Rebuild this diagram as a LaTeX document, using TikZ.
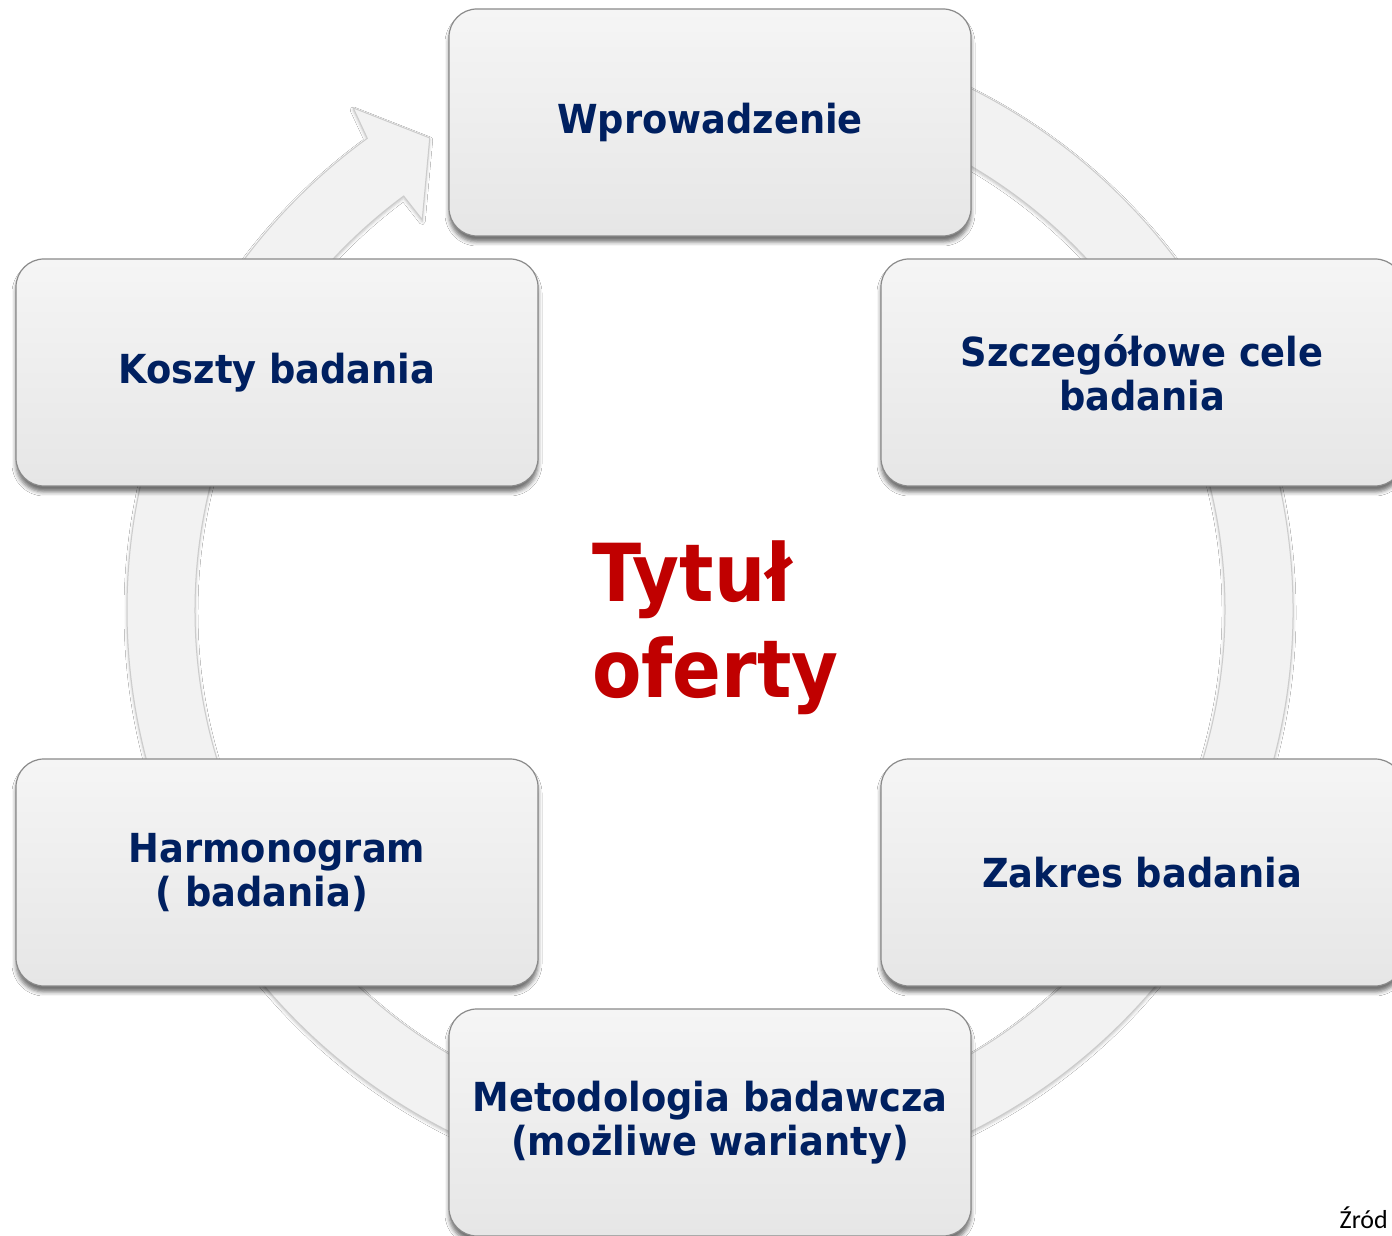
\documentclass[tikz,border=0pt]{standalone}
\usepackage{fontspec}
\setmainfont{DejaVu Sans}
\newfontfamily\boxfont[FakeStretch=0.92]{DejaVu Sans}
\newfontfamily\titlefont[FakeStretch=0.9]{DejaVu Sans}
\newfontfamily\srcfont{Carlito}
\usetikzlibrary{shadows.blur}
\definecolor{navy}{HTML}{002060}
\definecolor{titlered}{HTML}{C00000}
\definecolor{ringfill}{HTML}{F2F2F2}
\definecolor{ringline}{HTML}{CCCCCC}
\definecolor{boxline}{HTML}{8A8A8A}
\definecolor{boxtop}{HTML}{F5F5F5}
\definecolor{boxbot}{HTML}{E6E6E6}
\tikzset{
  stage/.style={rectangle, rounded corners=28pt, minimum width=522pt, minimum height=227pt,
    draw=boxline, line width=1.2pt, top color=boxtop, bottom color=boxbot, text=navy,
    font=\boxfont\bfseries\fontsize{40}{44}\selectfont, align=center,
    blur shadow={shadow xshift=0pt, shadow yshift=-6pt, shadow blur radius=4pt, shadow opacity=55}},
  ringstyle/.style={fill=ringfill, draw=ringline, line width=1pt,
    blur shadow={shadow xshift=0pt, shadow yshift=-2pt, shadow blur radius=3pt, shadow opacity=25}}
}
\begin{document}
\begin{tikzpicture}[x=1pt,y=1pt]
\useasboundingbox (0,0) rectangle (1392,1236);
\clip (0,0) rectangle (1392,1236);
\fill[white] (0,0) rectangle (1392,1236);
% circular arrow
\begin{scope}[shift={(710,626)}]
\path[ringstyle]
  (95:583) arc[start angle=95, end angle=-234, radius=583]
  -- (-234.6:616) -- (-239.3:549) -- (-233.6:485) -- (-233.5:515)
  arc[start angle=-233.5, end angle=95, radius=515] -- cycle;
\end{scope}
% stages
\node[stage] (intro) at (710,1113.5) {Wprowadzenie};
\node[stage] (goals) at (1142,863.5) {Szczegółowe cele\\badania};
\node[stage] (scope) at (1142,363.5) {Zakres badania};
\node[stage] (method) at (710,113.5) {Metodologia badawcza\\(możliwe warianty)};
\node[stage] (sched) at (277,363.5) {Harmonogram\\( badania)\hspace*{30pt}};
\node[stage] (cost) at (277,863.5) {Koszty badania};
% title
\node[anchor=north west, inner sep=0pt, text=titlered, align=left,
  font=\titlefont\bfseries\fontsize{80}{96}\selectfont] (title) at (592,695) {Tytuł\\oferty};
% source
\node[anchor=base east, inner sep=0pt, font=\srcfont\fontsize{26}{30}\selectfont] (src) at (1388,7) {Źród};
\end{tikzpicture}
\end{document}
